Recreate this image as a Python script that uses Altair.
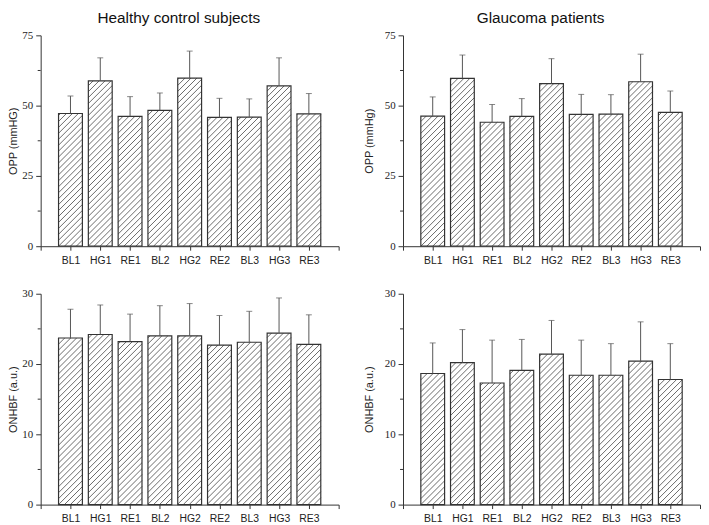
import math
import altair as alt
import pandas as pd

categories = ["BL1", "HG1", "RE1", "BL2", "HG2", "RE2", "BL3", "HG3", "RE3"]

opp_control = [47.2, 58.8, 46.2, 48.3, 59.8, 45.8, 45.9, 57.0, 47.1]
opp_control_sd = [6.2, 8.2, 7.0, 6.2, 9.6, 6.8, 6.5, 10.0, 7.2]
opp_glaucoma = [46.3, 59.7, 44.1, 46.2, 57.8, 46.9, 47.0, 58.5, 47.6]
opp_glaucoma_sd = [6.8, 8.3, 6.3, 6.3, 8.9, 7.1, 6.9, 9.8, 7.6]

onhbf_control = [23.7, 24.2, 23.2, 24.0, 24.0, 22.7, 23.1, 24.4, 22.8]
onhbf_control_sd = [4.1, 4.2, 3.9, 4.3, 4.6, 4.2, 4.4, 5.0, 4.2]
onhbf_glaucoma = [18.65, 20.2, 17.3, 19.1, 21.4, 18.4, 18.4, 20.4, 17.8]
onhbf_glaucoma_sd = [4.35, 4.7, 6.1, 4.4, 4.8, 5.0, 4.5, 5.6, 5.1]

titles = ["Healthy control subjects", "Glaucoma patients"]

SANS = "Liberation Sans"
SERIF = "Liberation Serif"
INK = "#333333"

label_expr = " : ".join(
    "datum.value == " + str(i) + " ? '" + c + "'" for i, c in enumerate(categories, start=1)
) + " : ''"


def hatch_rows(vals, W, H, ymax, step=6.0):
    sx = W / 10.0
    sy = H / ymax
    rows = []
    for i, v in enumerate(vals, start=1):
        x0 = (i - 0.4) * sx
        x1 = (i + 0.4) * sx
        y1 = v * sy
        c = math.floor((x0 - y1) / step) * step
        while c <= x1:
            lo = max(x0, c)
            hi = min(x1, c + y1)
            if hi > lo:
                rows.append({"hx": lo / sx, "hx2": hi / sx,
                             "hy": (lo - c) / sy, "hy2": (hi - c) / sy})
            c += step
    return pd.DataFrame(rows)


def panel(vals, sds, ymax, major, ytitle, W, H, title=None, title_pad=3):
    step = major[1] - major[0]
    minor = pd.DataFrame({"m": [m + step / 2 for m in major[:-1]]})
    df = pd.DataFrame({
        "cat": categories,
        "xc": list(range(1, 10)),
        "x0": [i - 0.4 for i in range(1, 10)],
        "x1": [i + 0.4 for i in range(1, 10)],
        "v": vals,
        "top": [v + s for v, s in zip(vals, sds)],
        "zero": [0] * 9,
    })
    xscale = alt.Scale(domain=[0, 10], nice=False, zero=False)
    yscale = alt.Scale(domain=[0, ymax], nice=False)
    xaxis = alt.Axis(
        values=list(range(0, 11)), tickCount=30,
        labelExpr=label_expr,
        title=None, grid=False, tickSize=4, tickColor=INK, domainColor=INK,
        labelFont=SANS, labelFontSize=10.5, labelColor="#222222", labelPadding=5,
        labelFlush=False, labelOverlap=False, labelBound=False,
    )
    yaxis = alt.Axis(
        values=major, tickCount=30,
        grid=False, tickSize=5, tickColor=INK, domainColor=INK,
        labelFont=SERIF, labelFontSize=11, labelColor="#222222", labelPadding=3,
        labelOverlap=False,
        title=ytitle, titleFont=SANS, titleFontSize=11, titleFontWeight="normal",
        titleColor="#222222", titlePadding=title_pad,
    )
    base = alt.Chart(df)
    fill = base.mark_rect(fill="white").encode(
        x=alt.X("x0:Q", scale=xscale, axis=xaxis),
        x2="x1:Q",
        y=alt.Y("v:Q", scale=yscale, axis=yaxis),
        y2="zero:Q",
    )
    hatch = alt.Chart(hatch_rows(vals, W, H, ymax)).mark_rule(
        stroke="#444444", strokeWidth=0.8
    ).encode(
        x=alt.X("hx:Q", scale=xscale, axis=xaxis),
        x2="hx2:Q",
        y=alt.Y("hy:Q", scale=yscale, axis=yaxis),
        y2="hy2:Q",
    )
    outline = base.mark_rect(fillOpacity=0, stroke=INK, strokeWidth=1.2).encode(
        x=alt.X("x0:Q", scale=xscale, axis=xaxis),
        x2="x1:Q",
        y=alt.Y("v:Q", scale=yscale, axis=yaxis),
        y2="zero:Q",
    )
    err = base.mark_rule(stroke="#555555", strokeWidth=1).encode(
        x=alt.X("xc:Q", scale=xscale, axis=xaxis),
        y=alt.Y("v:Q", scale=yscale, axis=yaxis),
        y2="top:Q",
    )
    cap = base.mark_tick(orient="horizontal", size=6, thickness=1, color="#555555").encode(
        x=alt.X("xc:Q", scale=xscale, axis=xaxis),
        y=alt.Y("top:Q", scale=yscale, axis=yaxis),
    )
    minor_ticks = alt.Chart(minor).mark_rule(stroke=INK, strokeWidth=1).encode(
        x=alt.value(-3), x2=alt.value(0),
        y=alt.Y("m:Q", scale=yscale, axis=yaxis),
    )
    props = dict(width=W, height=H)
    if title:
        props["title"] = alt.Title(
            title, font=SANS, fontSize=15.5, fontWeight="normal", color="#111111",
            anchor="middle", dx=-11, offset=3,
        )
    return alt.layer(fill, hatch, outline, err, cap, minor_ticks).properties(**props)


tl = panel(opp_control, opp_control_sd, 75, [0, 25, 50, 75], "OPP (mmHG)", 301, 213, titles[0], 3)
tr = panel(opp_glaucoma, opp_glaucoma_sd, 75, [0, 25, 50, 75], "OPP (mmHg)", 300, 213, titles[1], 10)
bl = panel(onhbf_control, onhbf_control_sd, 30, [0, 10, 20, 30], "ONHBF (a.u.)", 301, 213, None, 3)
br = panel(onhbf_glaucoma, onhbf_glaucoma_sd, 30, [0, 10, 20, 30], "ONHBF (a.u.)", 300, 213, None, 10)

chart = alt.concat(
    tl, tr, bl, br, columns=2,
    spacing={"row": 48, "column": 65}, bounds="flush",
).properties(
    padding={"left": 0, "top": 0, "right": 0, "bottom": 0},
    background="white",
).configure_view(stroke=None).configure_axis(labelOverlap=False)

chart.save("out.html", embed_options={"renderer": "svg", "actions": False})
